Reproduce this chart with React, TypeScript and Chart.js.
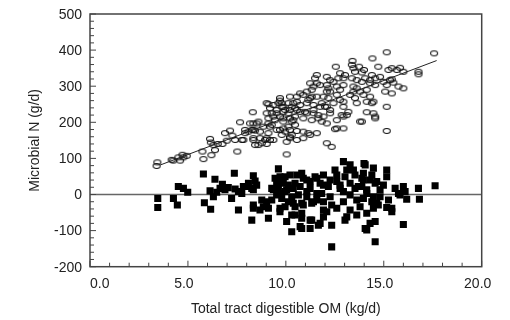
import React, { useEffect, useRef } from "react";
import { Chart, registerables } from "chart.js";

Chart.register(...registerables);

// Observed microbial N (open ovals)
const openX = [
  3.44, 3.40, 4.17, 4.25, 4.51, 4.72, 4.77, 4.94, 4.60, 5.79, 5.74, 6.13, 6.17, 6.30, 6.38, 6.20, 6.52, 6.76, 6.89, 6.98,
  7.15, 7.27, 7.41, 7.75, 7.92, 7.52, 7.66, 8.09, 8.26, 8.43, 8.31, 8.34, 8.60, 8.34, 8.43, 8.68, 8.77, 8.94, 9.02, 8.60,
  8.85, 9.11, 9.28, 9.11, 9.19, 9.11, 9.28, 9.36, 9.53, 9.62, 9.70, 9.79, 9.96, 10.13, 10.21, 10.30, 9.70, 9.87, 10.13, 9.70,
  9.79, 9.96, 10.21, 10.30, 10.38, 10.04, 10.21, 10.04,
  15.15, 17.57, 14.42, 13.40, 13.37, 12.55, 13.74, 13.99, 13.88, 14.72, 13.45, 13.53, 15.24, 15.41, 15.83, 16.00, 15.66, 16.77, 16.77, 14.39,
  14.81, 14.56, 12.77, 13.02, 12.94, 12.68, 12.09, 12.26, 12.43, 13.37, 13.62, 13.88, 14.05, 14.30, 11.58, 11.41, 11.32, 11.75, 12.09, 12.17,
  12.09, 12.60, 12.77, 12.94, 13.45, 13.62, 13.45, 13.79, 14.13, 13.96, 14.30, 14.56, 14.98, 15.15, 15.32, 15.75, 16.00, 15.41, 15.15, 14.47,
  14.56, 13.88, 14.13, 15.15, 12.60, 12.77, 12.94, 13.28, 13.53, 13.62, 14.30, 14.39, 14.13, 12.94, 12.85, 13.11, 13.19, 12.26, 11.92, 12.17,
  11.83, 12.09, 12.43, 12.26, 11.83, 12.09, 12.51, 10.89, 11.15, 11.58, 10.56, 10.89, 11.24, 11.58, 10.38, 10.73, 11.07, 11.41, 11.75, 10.56,
  10.98, 11.41, 11.66, 10.47, 10.89, 11.32, 11.92, 10.30, 11.24, 11.49, 11.58, 10.47, 10.56,
  10.73, 11.07, 11.32, 10.56, 11.15, 9.70, 9.79, 9.87, 9.36, 9.19, 9.02, 9.02, 9.53, 9.87, 10.21, 10.47, 10.73, 11.07, 11.41, 12.00,
  12.26, 9.11, 9.45, 9.87, 10.21, 11.66, 12.60, 12.94, 8.17, 8.51, 7.92, 8.34, 8.68, 9.19, 9.53, 9.87, 10.13, 7.83, 8.34, 9.02,
  9.36, 10.21, 10.56, 10.89, 11.24, 12.09, 12.34, 13.79, 12.94, 12.60, 15.41, 15.49, 15.07, 14.56, 14.47,
];
const openY = [
  89, 79, 96, 94, 103, 110, 103, 107, 94, 98, 119, 154, 144, 137, 123, 109, 140, 140, 170, 149,
  177, 163, 151, 151, 170, 119, 200, 174, 179, 177, 228, 197, 202, 151, 137, 156, 142, 151, 140, 137,
  188, 197, 193, 170, 151, 250, 225, 216, 234, 253, 260, 243, 234, 253, 271, 243, 216, 211, 225, 179,
  165, 174, 179, 165, 206, 146, 156, 111,
  394, 391, 377, 370, 359, 354, 354, 345, 338, 354, 350, 340, 345, 350, 351, 340, 345, 340, 333, 331,
  326, 322, 336, 331, 322, 322, 326, 317, 312, 322, 317, 312, 322, 317, 308, 299, 290, 303, 303, 294,
  285, 299, 290, 303, 299, 294, 285, 285, 290, 276, 308, 303, 312, 303, 317, 299, 294, 280, 243, 225,
  216, 202, 228, 176, 276, 262, 257, 276, 267, 253, 271, 253, 257, 243, 220, 220, 229, 285, 271, 267,
  253, 243, 253, 225, 202, 197, 181, 174, 170, 170, 271, 276, 267, 271, 253, 248, 253, 248, 243, 234,
  229, 225, 220, 216, 211, 206, 216, 202, 308, 322, 331, 193, 176,
  280, 285, 271, 257, 262, 267, 253, 243, 248, 239, 253, 225, 225, 229, 234, 239, 229, 225, 234, 243,
  234, 211, 206, 202, 211, 211, 206, 216, 197, 197, 179, 179, 174, 188, 179, 183, 188, 151, 156, 156,
  151, 160, 151, 156, 165, 142, 132, 202, 183, 183, 319, 310, 285, 211, 257,
];

// Residuals (filled squares)
const filledX = [
  3.46, 3.46, 4.26, 4.46, 4.51, 4.77, 4.99, 5.79, 5.84, 6.16, 6.38, 6.13, 6.30, 6.47, 6.64, 6.76, 6.89, 7.06, 7.23, 7.41,
  7.58, 7.75, 7.37, 7.58, 8.00, 8.26, 8.51, 8.34, 8.43, 8.34, 8.34, 8.68, 8.26, 9.11, 8.77, 9.02, 9.28, 9.11, 9.62, 9.45,
  9.79, 9.96, 10.13, 9.62, 9.96, 10.30, 9.28, 9.53, 9.79, 10.13, 9.70, 10.30, 10.04, 10.30, 8.09, 7.83, 8.34, 8.85, 9.70, 9.53,
  9.87, 9.36, 9.70, 10.04, 10.21, 10.47, 10.30, 10.38, 9.96, 9.70, 10.81, 10.81, 11.24, 11.32, 11.66, 10.81, 11.07, 10.73, 11.24, 11.49,
  11.75, 11.92, 12.17, 11.83, 12.26, 12.60, 12.77, 13.02, 13.11, 13.28, 13.53, 13.70, 13.96, 14.05, 14.39, 14.56, 14.13, 14.47, 14.64, 13.79,
  13.28, 13.11, 14.05, 14.56, 12.34, 11.92, 12.34, 11.58, 11.32, 11.07, 10.64, 10.81, 12.34, 12.94, 13.28, 13.99, 14.47, 15.15, 15.15, 16.00,
  16.09, 15.83, 16.77, 16.82, 17.62, 16.00, 14.56, 14.13, 10.73, 11.75, 10.81, 11.24, 10.47, 11.92, 12.09, 13.02, 13.62, 14.13, 14.47, 14.30,
  15.24, 15.41, 14.72, 14.81, 15.58, 15.75, 14.98, 14.81, 14.64, 14.30, 13.96, 13.88, 13.45, 13.88, 14.13, 13.53, 13.28, 12.94, 12.77, 12.60,
  12.51, 12.26, 11.92, 11.58, 11.24, 10.89, 10.56, 10.38, 11.07, 11.58, 11.92, 11.41, 10.89, 10.47, 12.94, 13.62, 13.96, 14.39, 12.60, 16.17,
  15.15, 15.41,
];
const filledY = [
  -11, -36, -11, -29, 22, 17, 6, 57, -23, -41, 42, 10, -6, 6, 17, 28, 13, 19, -11, 15,
  8, 3, 59, -43, 22, 17, 26, 52, 37, -29, -38, -43, -71, -66, -15, -20, -15, -38, 71, 45,
  36, 49, 26, 17, 8, 17, 17, -1, -11, -20, -38, -57, -75, -103, 31, 22, 13, -34, 49, 31,
  31, 13, 3, 13, 54, 31, -6, -24, -34, -48, -52, -94, -94, -71, -85, 59, 40, 22, 17, 49,
  31, 54, 22, 3, -6, 36, 17, 49, 68, 31, 54, 22, 40, 82, 54, 31, 3, -6, -24, -34,
  -43, -62, -94, -131, -85, -43, -29, -15, -24, -6, -1, -24, -145, 91, 82, 86, 73, 68, 49, 22,
  8, -1, 17, -13, 24, -83, -75, -98, -89, -80, -66, -71, -57, -62, -48, -71, -57, -52, -38, -80,
  -15, -38, -29, -6, 17, 3, 26, 13, 36, 40, 59, 45, 68, 22, 13, 17, -1, 8, 26, 54,
  68, 40, 26, 45, 36, 45, 54, 17, 8, 3, -20, -20, -29, -34, -20, -15, -11, -20, -38, -13,
  -36, -48,
];

// Fitted regression line end points and zero reference
const fitX = [3.6, 17.7];
const fitY = [82, 371];
const zeroX = [0, 20];
const zeroY = [0, 0];

const xTickValues = [0, 5, 10, 15, 20];
const xTickLabels = ["0.0", "5.0", "10.0", "15.0", "20.0"];
const yTickValues = [-200, -100, 0, 100, 200, 300, 400, 500];
const yTickLabels = ["-200", "-100", "0", "100", "200", "300", "400", "500"];

const xTitle = "Total tract digestible OM (kg/d)";
const yTitle = "Microbial N (g/d)";

const FONT = '14px "Liberation Sans", Arial, Helvetica, sans-serif';
const TEXT = "#222";

function makeOval(): HTMLCanvasElement {
  const c = document.createElement("canvas");
  c.width = 10;
  c.height = 8;
  const g = c.getContext("2d")!;
  g.strokeStyle = "#111";
  g.lineWidth = 1.1;
  g.beginPath();
  g.ellipse(5, 4, 3.5, 2.5, 0, 0, Math.PI * 2);
  g.stroke();
  return c;
}

const framePlugin = {
  id: "frameAxes",
  afterDatasetsDraw(chart: any) {
    const { ctx, chartArea: a, scales } = chart;
    const xs = scales.x;
    const ys = scales.y;
    ctx.save();
    ctx.strokeStyle = "#444";
    ctx.lineWidth = 1;
    for (let i = 0; i <= 20; i++) {
      const px = xs.getPixelForValue(i);
      const len = i % 5 === 0 ? 6 : 4;
      ctx.beginPath();
      ctx.moveTo(px, a.bottom);
      ctx.lineTo(px, a.bottom - len);
      ctx.stroke();
    }
    for (let i = 0; i <= 35; i++) {
      const v = -200 + i * 20;
      const py = ys.getPixelForValue(v);
      const len = i % 5 === 0 ? 6 : 4;
      ctx.beginPath();
      ctx.moveTo(a.left, py);
      ctx.lineTo(a.left + len, py);
      ctx.stroke();
    }
    ctx.lineWidth = 1.5;
    ctx.strokeStyle = "#444";
    ctx.strokeRect(a.left, a.top, a.right - a.left, a.bottom - a.top);

    ctx.fillStyle = TEXT;
    ctx.font = FONT;
    ctx.textBaseline = "middle";
    ctx.textAlign = "right";
    yTickValues.forEach((v, i) => {
      ctx.fillText(yTickLabels[i], a.left - 8, ys.getPixelForValue(v) + 1);
    });
    xTickValues.forEach((v, i) => {
      const px = xs.getPixelForValue(v);
      if (i === 0) {
        ctx.textAlign = "left";
        ctx.fillText(xTickLabels[i], px, a.bottom + 17);
      } else {
        ctx.textAlign = "center";
        ctx.fillText(xTickLabels[i], px - 4, a.bottom + 17);
      }
    });
    ctx.textAlign = "center";
    ctx.fillText(xTitle, (a.left + a.right) / 2, a.bottom + 42);
    ctx.save();
    ctx.translate(35, (a.top + a.bottom) / 2);
    ctx.rotate(-Math.PI / 2);
    ctx.fillText(yTitle, 0, 0);
    ctx.restore();
    ctx.restore();
  },
};

export default function App() {
  const ref = useRef<HTMLCanvasElement>(null);
  useEffect(() => {
    const oval = makeOval();
    const chart = new Chart(ref.current!, {
      type: "scatter",
      data: {
        datasets: [
          {
            label: "fit",
            type: "line",
            data: fitX.map((x, i) => ({ x, y: fitY[i] })),
            borderColor: "#222",
            borderWidth: 1,
            pointRadius: 0,
            order: 1,
          },
          {
            label: "observed",
            data: openX.map((x, i) => ({ x, y: openY[i] })),
            pointStyle: oval as any,
            order: 2,
          },
          {
            label: "residual",
            data: filledX.map((x, i) => ({ x, y: filledY[i] })),
            pointStyle: "rect",
            pointRadius: 5,
            backgroundColor: "#000",
            borderColor: "#000",
            borderWidth: 0,
            order: 3,
          },
          {
            label: "zero",
            type: "line",
            data: zeroX.map((x, i) => ({ x, y: zeroY[i] })),
            borderColor: "#666",
            borderWidth: 1.5,
            pointRadius: 0,
            order: 4,
          },
        ],
      },
      options: {
        animation: false,
        responsive: true,
        maintainAspectRatio: false,
        layout: { padding: { left: 90, right: 28.3, top: 14, bottom: 53.3 } },
        plugins: { legend: { display: false }, tooltip: { enabled: false } },
        scales: {
          x: { type: "linear", min: 0, max: 20, display: false },
          y: { type: "linear", min: -200, max: 500, display: false },
        },
      },
      plugins: [framePlugin],
    });
    return () => chart.destroy();
  }, []);
  return (
    <div style={{ position: "fixed", left: 0, top: 0, width: 510, height: 320, background: "#fff" }}>
      <canvas ref={ref} />
    </div>
  );
}
